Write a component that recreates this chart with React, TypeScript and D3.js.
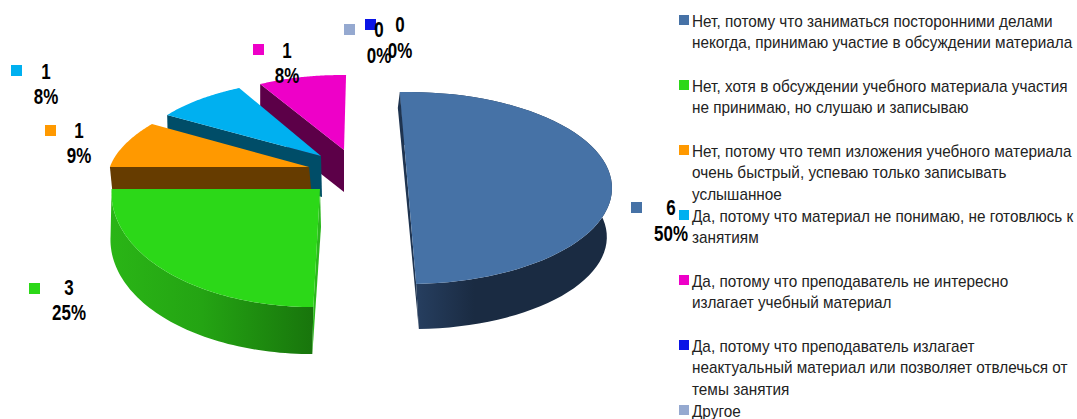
import React from "react";
import * as d3 from "d3";

const counts = [6, 3, 1, 1, 1, 0, 0];
const percentLabels = ["50%", "25%", "9%", "8%", "8%", "0%", "0%"];
const sliceColors = ["#4672a6", "#2cd818", "#ff9900", "#00b0f0", "#ee00c8", "#0a14e6", "#95a9d0"];
const legendLines = [
  ["Нет, потому что заниматься посторонними делами", "некогда, принимаю участие в обсуждении материала"],
  ["Нет, хотя в обсуждении учебного материала участия", "не принимаю, но слушаю и записываю"],
  ["Нет, потому что темп изложения учебного материала", "очень быстрый, успеваю только записывать", "услышанное"],
  ["Да, потому что материал не понимаю, не готовлюсь к", "занятиям"],
  ["Да, потому что преподаватель не интересно", "излагает учебный материал"],
  ["Да, потому что преподаватель излагает", "неактуальный материал или позволяет отвлечься от", "темы занятия"],
  ["Другое"],
];

// Projection of each exploded slice: apex, axes and skew of its tilted ellipse.
const geometry = [
  { ax: 408, ay: 188, rx: 204, ry: 96, kx: 0, ky: 0 },
  { ax: 320, ay: 189, rx: 208, ry: 118, kx: -15, ky: 4.7 },
  { ax: 309, ay: 167, rx: 197.7, ry: 86, kx: -38.6, ky: 3.4 },
  { ax: 321, ay: 156, rx: 184, ry: 76.6, kx: -19.5, ky: 6 },
  { ax: 344, ay: 150, rx: 171, ry: 74.8, kx: -8.9, ky: 5 },
];
const cutFaces = [
  null,
  null,
  { color: "#663c00", dx: 3, dy: 30 },
  { color: "#004d68", dx: 1, dy: 41 },
  { color: "#5c0048", dx: 0, dy: 42 },
];
const rims = [
  { dx: 3, dy: 49, scale: 0.96, gradient: "wall0" },
  { dx: -1, dy: 47, scale: 1, gradient: "wall1" },
];
const labelPlaces = [
  { sx: 631, sy: 202, cx: 671, y1: 215, y2: 241 },
  { sx: 29, sy: 283, cx: 69, y1: 295, y2: 320 },
  { sx: 45, sy: 125, cx: 79, y1: 138, y2: 163 },
  { sx: 11, sy: 65, cx: 46, y1: 79, y2: 104 },
  { sx: 253, sy: 44, cx: 287, y1: 58, y2: 83 },
  { sx: 365, sy: 19, cx: 400, y1: 32, y2: 58 },
  { sx: 344, sy: 24, cx: 379, y1: 37, y2: 63 },
];

const ROTATION = -0.04;
const LEGEND_SQUARE_TOP = d3.scaleLinear().domain([0, 1]).range([15, 80]);
const FONT = "'Liberation Sans', Arial, sans-serif";
const LEGEND_SQUEEZE = 0.958;
const LABEL_SQUEEZE = 0.77;

const pieAngles = d3
  .pie<number>()
  .sort(null)
  .startAngle(ROTATION)
  .endAngle(ROTATION + 2 * Math.PI)(counts);

type G = (typeof geometry)[number];
const project = (g: G, t: number): [number, number] => {
  const s = Math.sin(t);
  const c = -Math.cos(t);
  return [g.ax + g.rx * s + g.kx * c, g.ay + g.ky * s + g.ry * c];
};
const line = d3.line();
const samples = (a: number, b: number) => d3.range(0, 61).map((i) => a + ((b - a) * i) / 60);

export default function App() {
  const marks: React.ReactNode[] = [];
  // Back slices first, so nearer slices overlap them.
  [4, 3, 2, 1, 0].forEach((i) => {
    const g = geometry[i];
    const { startAngle, endAngle } = pieAngles[i];
    const arc = samples(startAngle, endAngle).map((t) => project(g, t));
    const apex: [number, number] = [g.ax, g.ay];
    const cut = cutFaces[i];
    const rim = rims[i];
    if (cut) {
      const p = project(g, startAngle);
      marks.push(
        <path
          key={`cut${i}`}
          fill={cut.color}
          d={line([apex, p, [p[0] + cut.dx, p[1] + cut.dy], [apex[0] + cut.dx, apex[1] + cut.dy]]) + "Z"}
        />
      );
    }
    if (rim) {
      const toRim = (p: [number, number]): [number, number] => [
        g.ax + rim.dx + (p[0] - g.ax) * rim.scale,
        g.ay + rim.dy + (p[1] - g.ay) * rim.scale,
      ];
      const lower = samples(startAngle, endAngle).map((t) => toRim(project(g, t)));
      marks.push(
        <path key={`rim${i}`} fill={`url(#${rim.gradient})`} d={line([...arc, ...lower.reverse()]) + "Z"} />
      );
      const first = arc[0];
      const firstLow = lower[lower.length - 1];
      if (i === 0) {
        const last = arc[arc.length - 1];
        const lastLow = lower[0];
        marks.push(
          <path
            key="edge0"
            fill="#1f3450"
            d={line([first, [first[0] - 2, first[1] + 16], lastLow, last]) + "Z"}
          />
        );
      } else {
        marks.push(
          <path
            key="edge1"
            fill="#2bb81c"
            d={line([apex, [apex[0] + 1, apex[1] + 38], firstLow, first]) + "Z"}
          />
        );
      }
    }
    marks.push(<path key={`top${i}`} fill={sliceColors[i]} d={line([apex, ...arc]) + "Z"} />);
  });

  return (
    <svg
      width={1077}
      height={419}
      style={{ position: "absolute", left: 0, top: 0, background: "#fff" }}
    >
      <defs>
        <linearGradient id="wall0" x1="0" x2="1" y1="0" y2="0">
          <stop offset="0" stopColor="#2a4468" />
          <stop offset="0.35" stopColor="#1a2b42" />
          <stop offset="1" stopColor="#1a2b42" />
        </linearGradient>
        <linearGradient id="wall1" x1="0" x2="1" y1="0" y2="0">
          <stop offset="0" stopColor="#2ab516" />
          <stop offset="0.45" stopColor="#24a413" />
          <stop offset="1" stopColor="#18750c" />
        </linearGradient>
      </defs>
      {marks}
      {counts.map((v, i) => {
        const l = labelPlaces[i];
        const common = {
          textAnchor: "middle" as const,
          fontFamily: FONT,
          fontWeight: "bold",
          fontSize: 22,
          fill: "#000",
        };
        return (
          <g key={i}>
            <rect x={l.sx} y={l.sy} width={11} height={11} fill={sliceColors[i]} />
            <text {...common} transform={`translate(${l.cx},${l.y1}) scale(${LABEL_SQUEEZE},1)`}>{v}</text>
            <text {...common} transform={`translate(${l.cx},${l.y2}) scale(${LABEL_SQUEEZE},1)`}>{percentLabels[i]}</text>
          </g>
        );
      })}
      {legendLines.map((lines, i) => {
        const top = LEGEND_SQUARE_TOP(i);
        return (
          <g key={`leg${i}`}>
            <rect x={679} y={top} width={10} height={10} fill={sliceColors[i]} />
            {lines.map((t, j) => (
              <text
                key={j}
                fontFamily={FONT}
                fontSize={16}
                fill="#222"
                transform={`translate(692,${top + 11.5 + j * 21.7}) scale(${LEGEND_SQUEEZE},1)`}
              >
                {t}
              </text>
            ))}
          </g>
        );
      })}
    </svg>
  );
}
